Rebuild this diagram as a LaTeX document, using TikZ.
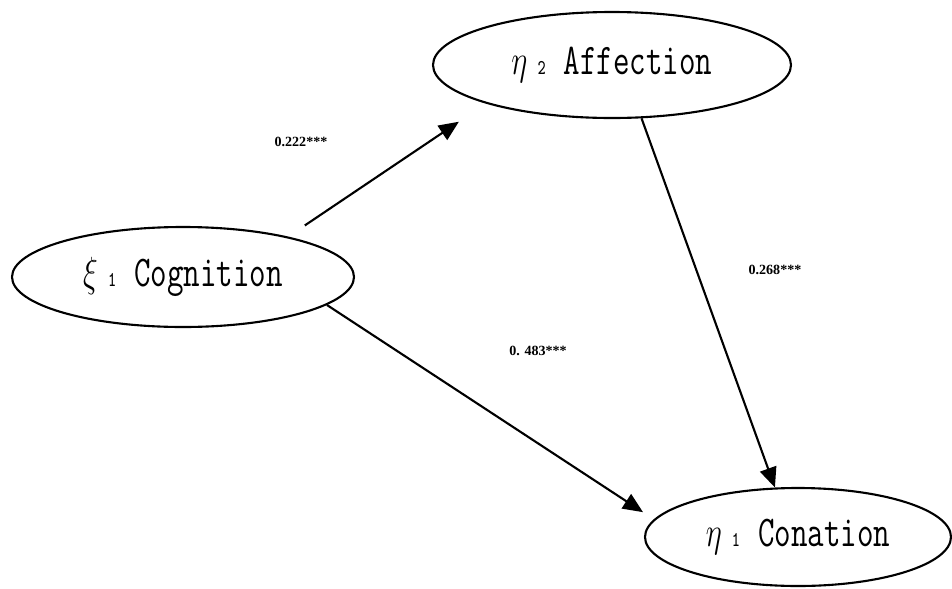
\documentclass[tikz,border=0pt]{standalone}
\usepackage{fontspec}
\usepackage{graphicx}
\usetikzlibrary{shapes.geometric, arrows.meta}
\newfontfamily\coeffont{Liberation Serif}
\newcommand{\latentname}[3]{\scalebox{0.73}[1]{\fontsize{12.5}{14}\selectfont\ttfamily $#1$\hspace{4pt}{\fontsize{6}{7}\selectfont #2}\hspace{7pt}#3}}

\begin{document}
\begin{tikzpicture}[
  latent/.style={draw, ellipse, line width=0.6pt, inner sep=0pt},
  effect/.style={-{Triangle[length=0.2cm, width=0.17cm]}, line width=0.6pt},
  coef/.style={font=\coeffont\fontsize{4}{5}\selectfont\bfseries}
]
\useasboundingbox (0,0) rectangle (9.52,5.88);

\node (cognition) [latent, minimum width=3.42cm, minimum height=1cm] at (1.83,3.11) {\latentname{\xi}{1}{Cognition}};
\node (affection) [latent, minimum width=3.58cm, minimum height=1.06cm] at (6.12,5.23) {\latentname{\eta}{2}{Affection}};
\node (conation) [latent, minimum width=3.06cm, minimum height=0.98cm] at (7.98,0.51) {\latentname{\eta}{1}{Conation}};

\node (c1) [coef] at (3.01,4.46) {0.222***};
\node (c2) [coef] at (7.75,3.18) {0.268***};
\node (c3) [coef] at (5.38,2.37) {0. 483***};

\draw[effect, shorten <=0.2cm, shorten >=0.325cm] (cognition.21) -- (affection.197);
\draw[effect, shorten >=0.13cm] (cognition.349) -- (conation.173);
\draw[effect] (affection.299) -- (conation.115);
\end{tikzpicture}
\end{document}
